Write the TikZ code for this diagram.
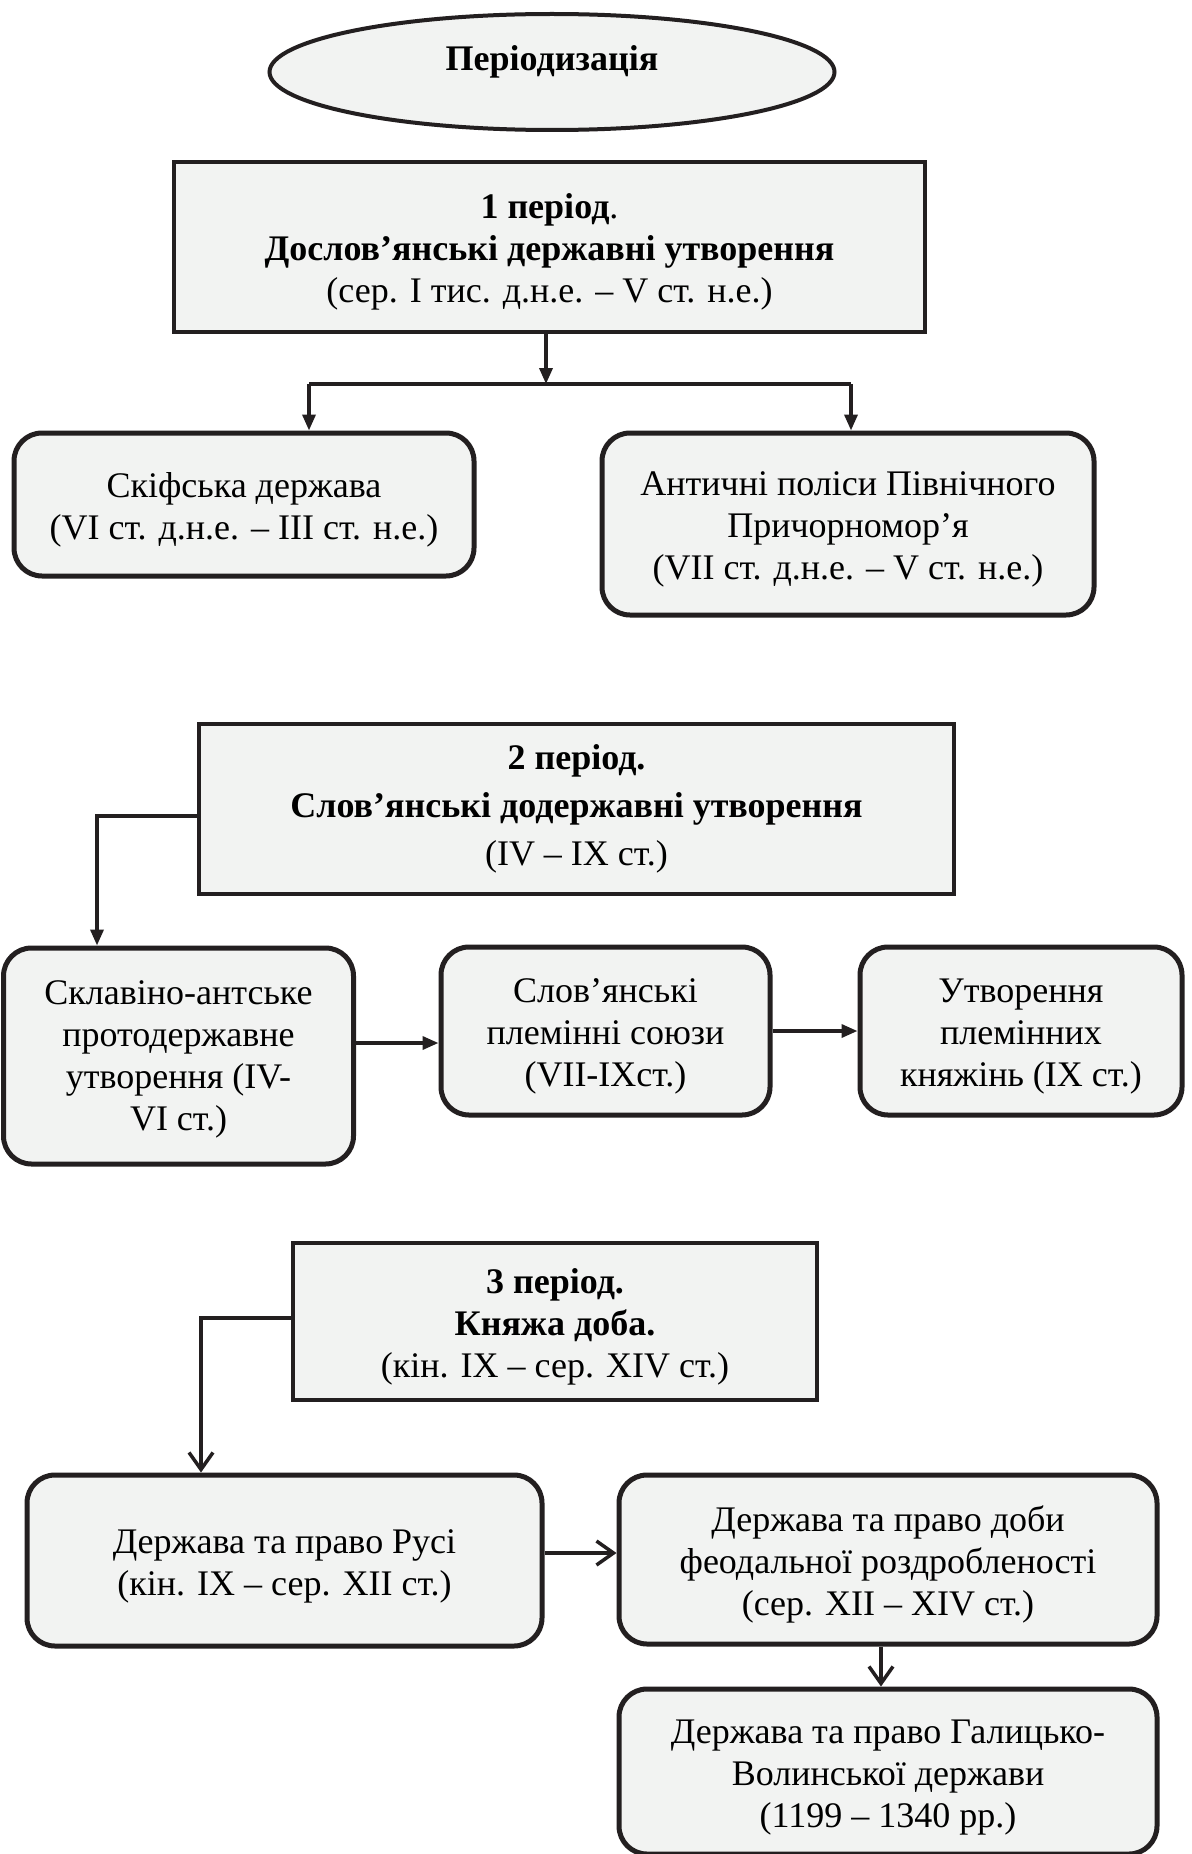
\documentclass[tikz,border=0pt]{standalone}
\usepackage{fontspec}
\setmainfont{Liberation Serif}
\usetikzlibrary{arrows.meta,shapes.geometric}
\definecolor{boxfill}{HTML}{F2F3F2}
\definecolor{ink}{HTML}{231F20}
\newcommand{\topfix}{\rule{0pt}{35pt}}
\begin{document}
\begin{tikzpicture}[x=1pt,y=-1pt,
  txt/.style={font=\fontsize{36}{42}\selectfont, align=center, text=black, inner sep=0pt},
  sqbox/.style={txt, draw=ink, line width=4pt, fill=boxfill, rectangle},
  rbox/.style={txt, draw=ink, line width=5pt, fill=boxfill, rectangle, rounded corners=28pt},
  conn/.style={draw=ink, line width=3.5pt},
  arrF/.style={conn, -{Triangle[length=16pt,width=13pt]}},
  arrO/.style={conn, -{Straight Barb[length=17pt,width=24pt,line width=3.5pt]}}
]
\useasboundingbox (0,0) rectangle (1191,1854);
\fill[white] (0,0) rectangle (1191,1854);

\node[ellipse, draw=ink, line width=4pt, fill=boxfill, minimum width=565pt, minimum height=116pt, inner sep=0pt] (title) at (552,72) {};
\node[font=\fontsize{36}{42}\selectfont\bfseries, inner sep=0pt] (titletext) at (552,62) {Періодизація};

\node[sqbox, minimum width=751pt, minimum height=170pt] (b1) at (549.5,247)
  {\topfix\textbf{1 період}.\\ \textbf{Дослов’янські державні утворення}\\ (сер. I тис. д.н.е. – V ст. н.е.)};
\node[rbox, minimum width=460pt, minimum height=143pt] (skif) at (244,504.5)
  {\topfix Скіфська держава\\ (VI ст. д.н.е. – III ст. н.е.)};
\node[rbox, minimum width=492pt, minimum height=182pt] (ant) at (848,524)
  {\topfix Античні поліси Північного\\ Причорномор’я\\ (VII ст. д.н.е. – V ст. н.е.)};

\coordinate (s1) at (546,384);
\coordinate (sL) at (309,384);
\coordinate (sR) at (851,384);
\draw[arrF] (b1.south -| s1) -- (s1);
\draw[conn] (sL) -- (sR);
\draw[arrF] (sL) -- (skif.north -| sL);
\draw[arrF] (sR) -- (ant.north -| sR);

\node[sqbox, font=\fontsize{36}{48}\selectfont, minimum width=755pt, minimum height=170pt] (b2) at (576.5,809)
  {\textbf{2 період.}\\ \textbf{Слов’янські додержавні утворення}\\ (IV – IX ст.)};
\node[rbox, minimum width=350pt, minimum height=216pt] (skl) at (178.5,1056)
  {\rule{0pt}{31pt}Склавіно-антське\\ протодержавне\\ утворення (IV-\\ VI ст.)};
\node[rbox, minimum width=329pt, minimum height=168pt] (slov) at (605.5,1031)
  {\topfix Слов’янські\\ племінні союзи\\ (VII-IXст.)};
\node[rbox, minimum width=322pt, minimum height=168pt] (utv) at (1021,1031)
  {\topfix Утворення\\ племінних\\ княжінь (IX ст.)};

\coordinate (c2) at (97,816);
\coordinate (a1) at (0,1043);
\draw[arrF] (b2.west |- c2) -- (c2) -- (skl.north -| c2);
\draw[arrF] (skl.east |- a1) -- (slov.west |- a1);
\draw[arrF] (slov.east) -- (utv.west);

\node[sqbox, minimum width=524pt, minimum height=157pt] (b3) at (555,1321.5)
  {\topfix\textbf{3 період.}\\ \textbf{Княжа доба.}\\ (кін. IX – сер. XIV ст.)};
\node[rbox, minimum width=515pt, minimum height=171pt] (rus) at (284.5,1560.5)
  {\topfix Держава та право Русі\\ (кін. IX – сер. XII ст.)};
\node[rbox, minimum width=538pt, minimum height=169pt] (feod) at (888,1559.5)
  {\topfix Держава та право доби\\ феодальної роздробленості\\ (сер. XII – XIV ст.)};
\node[rbox, minimum width=538pt, minimum height=165pt] (gal) at (888,1771.5)
  {\topfix Держава та право Галицько-\\ Волинської держави\\ (1199 – 1340 рр.)};

\coordinate (c3) at (201,1318);
\coordinate (a2) at (0,1553);
\coordinate (a3) at (881,0);
\draw[arrO] (b3.west |- c3) -- (c3) -- (rus.north -| c3);
\draw[arrO] (rus.east |- a2) -- (feod.west |- a2);
\draw[arrO] (feod.south -| a3) -- (gal.north -| a3);
\end{tikzpicture}
\end{document}
